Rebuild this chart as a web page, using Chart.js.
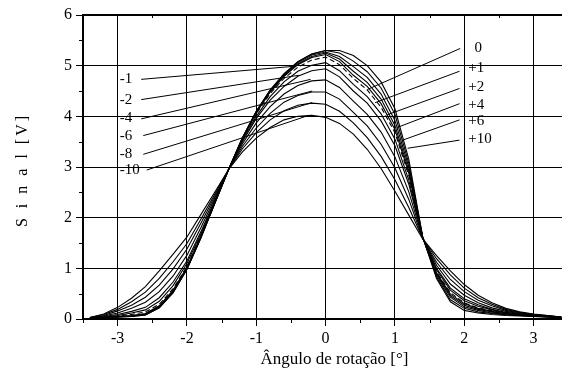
<!DOCTYPE html>
<html>
<head>
<meta charset="utf-8">
<script src="https://cdn.jsdelivr.net/npm/chart.js@4/dist/chart.umd.min.js"></script>
<style>
html,body{margin:0;padding:0;background:#fff;}
#wrap{width:562px;height:371px;}
</style>
</head>
<body>
<div id="wrap"><canvas id="c" width="562" height="371"></canvas></div>
<script>
// angle of rotation [deg]
const angles = [-3.4,-3.2,-3.0,-2.8,-2.6,-2.4,-2.2,-2.0,-1.8,-1.6,-1.4,-1.2,-1.0,-0.8,-0.6,-0.4,-0.2,0,0.2,0.4,0.6,0.8,1.0,1.2,1.4,1.6,1.8,2.0,2.2,2.4,2.6,2.8,3.0,3.2,3.4];
// signal [V] per curve
const sigP10 = [0.02,0.03,0.04,0.05,0.08,0.22,0.52,0.98,1.60,2.28,2.95,3.58,4.10,4.52,4.84,5.08,5.23,5.30,5.30,5.20,5.00,4.68,4.15,3.15,1.62,0.80,0.34,0.17,0.12,0.09,0.07,0.06,0.05,0.04,0.03];
const sigP6  = [0.02,0.03,0.04,0.05,0.08,0.22,0.52,0.98,1.60,2.28,2.95,3.58,4.10,4.52,4.84,5.08,5.23,5.30,5.25,5.09,4.88,4.56,4.04,3.07,1.62,0.83,0.38,0.21,0.14,0.11,0.08,0.07,0.05,0.04,0.03];
const sigP4  = [0.02,0.03,0.04,0.06,0.09,0.23,0.54,0.99,1.61,2.28,2.95,3.57,4.09,4.51,4.82,5.06,5.21,5.27,5.18,4.98,4.77,4.44,3.92,3.00,1.61,0.86,0.43,0.24,0.17,0.12,0.09,0.07,0.06,0.04,0.03];
const sigP2  = [0.02,0.03,0.05,0.06,0.10,0.25,0.55,1.01,1.62,2.29,2.95,3.57,4.08,4.49,4.80,5.04,5.18,5.25,5.13,4.89,4.67,4.34,3.82,2.93,1.61,0.89,0.46,0.27,0.19,0.14,0.10,0.08,0.06,0.05,0.03];
const sigP1  = [0.02,0.03,0.05,0.07,0.11,0.26,0.57,1.02,1.63,2.29,2.95,3.56,4.07,4.48,4.79,5.02,5.16,5.22,5.08,4.81,4.59,4.25,3.74,2.88,1.61,0.91,0.49,0.30,0.21,0.15,0.11,0.08,0.06,0.05,0.03];
const sig0   = [0.02,0.04,0.06,0.09,0.14,0.29,0.60,1.04,1.65,2.30,2.95,3.55,4.05,4.45,4.75,4.97,5.11,5.17,5.02,4.75,4.52,4.18,3.68,2.83,1.61,0.93,0.52,0.32,0.22,0.16,0.11,0.08,0.06,0.05,0.03];
const sigM1  = [0.02,0.04,0.07,0.12,0.18,0.35,0.66,1.10,1.68,2.32,2.95,3.53,4.00,4.39,4.68,4.89,5.01,5.06,4.90,4.63,4.39,4.05,3.55,2.74,1.61,0.97,0.57,0.36,0.25,0.18,0.12,0.09,0.07,0.05,0.03];
const sigM2  = [0.02,0.05,0.09,0.15,0.23,0.42,0.73,1.15,1.72,2.34,2.95,3.50,3.96,4.32,4.59,4.79,4.90,4.94,4.78,4.50,4.26,3.91,3.42,2.66,1.60,1.00,0.61,0.40,0.28,0.19,0.13,0.10,0.07,0.05,0.03];
const sigM4  = [0.02,0.06,0.12,0.21,0.33,0.54,0.85,1.26,1.80,2.38,2.95,3.46,3.87,4.19,4.44,4.61,4.70,4.72,4.57,4.30,4.04,3.69,3.20,2.51,1.60,1.06,0.69,0.47,0.32,0.22,0.15,0.11,0.08,0.06,0.04];
const sigM6  = [0.03,0.07,0.16,0.27,0.43,0.67,0.99,1.38,1.89,2.42,2.95,3.41,3.77,4.06,4.28,4.41,4.48,4.48,4.34,4.08,3.81,3.45,2.98,2.36,1.59,1.12,0.78,0.54,0.37,0.26,0.17,0.12,0.09,0.06,0.04];
const sigM8  = [0.03,0.09,0.19,0.34,0.53,0.80,1.13,1.49,1.97,2.46,2.95,3.36,3.68,3.93,4.11,4.22,4.26,4.24,4.10,3.87,3.58,3.21,2.75,2.20,1.59,1.19,0.87,0.61,0.42,0.29,0.19,0.13,0.09,0.07,0.04];
const sigM10 = [0.03,0.10,0.23,0.41,0.64,0.95,1.28,1.62,2.06,2.50,2.95,3.30,3.57,3.78,3.93,4.00,4.02,3.98,3.86,3.65,3.35,2.97,2.52,2.05,1.58,1.25,0.95,0.68,0.47,0.32,0.21,0.14,0.10,0.07,0.04];

const curveNames = ['+10','+6','+4','+2','+1','0','-1','-2','-4','-6','-8','-10'];
const curveValues = [sigP10,sigP6,sigP4,sigP2,sigP1,sig0,sigM1,sigM2,sigM4,sigM6,sigM8,sigM10];

const xTicks = [-3,-2,-1,0,1,2,3];
const yTicks = [0,1,2,3,4,5,6];
const xMinor = [-3.5,-2.5,-1.5,-0.5,0.5,1.5,2.5];
const yMinor = [0.5,1.5,2.5,3.5,4.5,5.5];

// curve labels: text, label anchor, leader line start, leader line end (data units)
const curveLabels = [
  {t:'-1',  lx:-3.0, ly:4.73, x0:-2.66, y0:4.73, x1:-0.435, y1:4.99},
  {t:'-2',  lx:-3.0, ly:4.33, x0:-2.66, y0:4.33, x1:-0.387, y1:4.81},
  {t:'-4',  lx:-3.0, ly:3.96, x0:-2.66, y0:3.95, x1:-0.217, y1:4.73},
  {t:'-6',  lx:-3.0, ly:3.61, x0:-2.63, y0:3.62, x1:-0.194, y1:4.50},
  {t:'-8',  lx:-3.0, ly:3.25, x0:-2.63, y0:3.25, x1:-0.199, y1:4.27},
  {t:'-10', lx:-3.0, ly:2.93, x0:-2.58, y0:2.94, x1:-0.242, y1:4.02},
  {t:'0',   lx:2.12, ly:5.35, x0:1.942, y0:5.34, x1:0.603, y1:4.53},
  {t:'+1',  lx:2.03, ly:4.95, x0:1.932, y0:4.89, x1:0.714, y1:4.27},
  {t:'+2',  lx:2.03, ly:4.58, x0:1.932, y0:4.55, x1:0.888, y1:4.03},
  {t:'+4',  lx:2.03, ly:4.22, x0:1.932, y0:4.25, x1:1.033, y1:3.78},
  {t:'+6',  lx:2.03, ly:3.91, x0:1.932, y0:3.93, x1:1.110, y1:3.53},
  {t:'+10', lx:2.03, ly:3.55, x0:1.932, y0:3.53, x1:1.183, y1:3.37}
];

const datasets = curveValues.map((vals, i) => ({
  label: curveNames[i],
  data: angles.map((a, k) => ({x: a, y: vals[k]})),
  borderColor: '#000',
  borderWidth: 1.1,
  borderDash: curveNames[i] === '0' ? [5,3] : [],
  pointRadius: 0,
  tension: 0,
  fill: false
}));
curveLabels.forEach(l => datasets.push({
  label: 'leader ' + l.t,
  data: [{x:l.x0, y:l.y0}, {x:l.x1, y:l.y1}],
  borderColor: '#000',
  borderWidth: 1,
  pointRadius: 0,
  fill: false
}));

const SERIF = '"Liberation Serif", "Times New Roman", serif';

const decor = {
  id: 'decor',
  afterDraw(chart) {
    const {ctx, chartArea: ca, scales: {x, y}} = chart;
    ctx.save();
    ctx.strokeStyle = '#000';
    ctx.lineWidth = 1;
    ctx.beginPath();
    xMinor.forEach(v => {
      const px = Math.round(x.getPixelForValue(v)) + 0.5;
      ctx.moveTo(px, ca.bottom); ctx.lineTo(px, ca.bottom + 4);
      ctx.moveTo(px, ca.top); ctx.lineTo(px, ca.top + 3);
    });
    yMinor.forEach(v => {
      const py = Math.round(y.getPixelForValue(v)) + 0.5;
      ctx.moveTo(ca.left - 4, py); ctx.lineTo(ca.left, py);
    });
    ctx.stroke();
    // top frame line
    ctx.lineWidth = 2;
    ctx.beginPath();
    ctx.moveTo(ca.left - 1, ca.top); ctx.lineTo(ca.right, ca.top);
    ctx.stroke();
    // curve labels
    ctx.fillStyle = '#000';
    ctx.font = '15px ' + SERIF;
    ctx.textAlign = 'left';
    ctx.textBaseline = 'middle';
    curveLabels.forEach(l => {
      ctx.fillText(l.t, x.getPixelForValue(l.lx) + 2, y.getPixelForValue(l.ly));
    });
    // axis titles
    ctx.font = '17px ' + SERIF;
    ctx.textAlign = 'center';
    ctx.textBaseline = 'alphabetic';
    ctx.fillText('Ângulo de rotação [°]', (ca.left + ca.right) / 2 + 12, 364);
    ctx.save();
    ctx.translate(27, (ca.top + ca.bottom) / 2 + 3);
    ctx.rotate(-Math.PI / 2);
    ctx.font = '16px ' + SERIF;
    ctx.letterSpacing = '3px';
    ctx.fillText('S i n a l [V]', 0, 0);
    ctx.restore();
    ctx.restore();
  }
};

new Chart(document.getElementById('c'), {
  type: 'line',
  data: {datasets},
  options: {
    responsive: false,
    animation: false,
    devicePixelRatio: 1,
    layout: {padding: {top: 15, right: 0, left: 0, bottom: 0}},
    plugins: {legend: {display: false}, tooltip: {enabled: false}, title: {display: false}},
    scales: {
      x: {
        type: 'linear',
        min: -3.5,
        max: 3.41,
        afterBuildTicks: s => { s.ticks = xTicks.map(v => ({value: v})); },
        afterFit: s => { s.height = 52; },
        grid: {color: '#000', lineWidth: 1, tickLength: 7, drawTicks: true},
        border: {color: '#000', width: 2},
        ticks: {color: '#000', font: {family: SERIF, size: 16}, padding: 3, maxRotation: 0,
                callback: v => String(v)}
      },
      y: {
        type: 'linear',
        min: 0,
        max: 6,
        afterBuildTicks: s => { s.ticks = yTicks.map(v => ({value: v})); },
        afterFit: s => { s.width = 83; },
        grid: {color: '#000', lineWidth: 1, tickLength: 7, drawTicks: true},
        border: {color: '#000', width: 2},
        ticks: {color: '#000', font: {family: SERIF, size: 16}, padding: 4,
                callback: v => String(v)}
      }
    }
  },
  plugins: [decor]
});
</script>
</body>
</html>
